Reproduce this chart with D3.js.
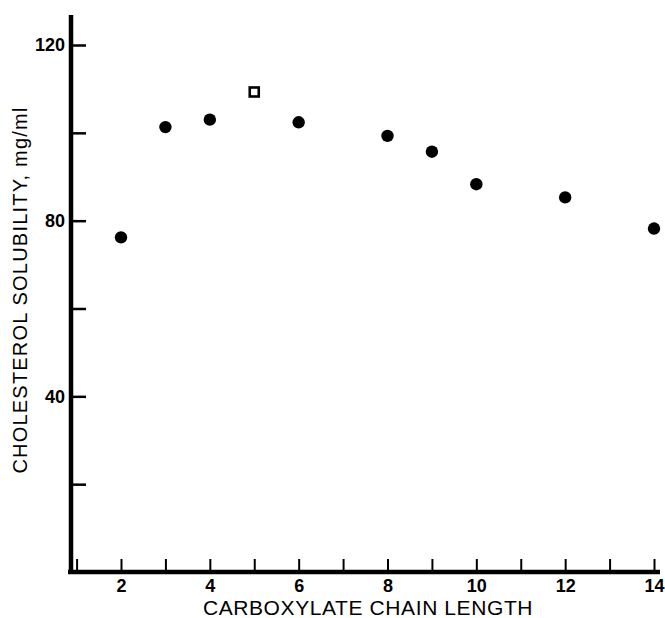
<!DOCTYPE html>
<html>
<head>
<meta charset="utf-8">
<script src="https://cdn.jsdelivr.net/npm/d3@7"></script>
<style>
  body { margin: 0; background: #fff; }
  svg { display: block; font-family: "Liberation Sans", Arial, sans-serif; }
</style>
</head>
<body>
<div id="chart"></div>
<script>
// Data
var chainLength = [2, 3, 4, 6, 8, 9, 10, 12, 14];
var solubility = [76.2, 101.3, 103.0, 102.4, 99.3, 95.7, 88.3, 85.3, 78.2];
var openChain = [5];
var openSolubility = [109.3];

var xTicks = [1, 2, 3, 4, 5, 6, 7, 8, 9, 10, 11, 12, 13, 14];
var xLabels = [2, 4, 6, 8, 10, 12, 14];
var yTicks = [20, 40, 60, 80, 100, 120];
var yLabels = [40, 80, 120];

var w = 665, h = 618;

var svg = d3.select("#chart").append("svg")
    .attr("width", w)
    .attr("height", h);

var xScale = d3.scaleLinear().domain([2, 14]).range([121, 654]);
var yScale = d3.scaleLinear().domain([0, 120]).range([572, 45]);

var axisX = 71;   // where the y axis sits
var axisY = 572;  // where the x axis sits

// x axis: ticks pointing up
var xAxis = d3.axisBottom(xScale)
    .tickValues(xTicks)
    .tickSizeInner(-13)
    .tickSizeOuter(0)
    .tickPadding(7)
    .tickFormat(function(d) { return xLabels.indexOf(d) >= 0 ? d : ""; });

var gx = svg.append("g")
    .attr("transform", "translate(0," + axisY + ")")
    .call(xAxis);
gx.select(".domain").remove();
gx.selectAll(".tick line").attr("stroke", "#000").attr("stroke-width", 2);
gx.selectAll(".tick text")
    .attr("fill", "#000")
    .attr("font-size", 18)
    .attr("font-weight", "bold");

svg.append("line")
    .attr("x1", axisX - 3).attr("x2", 660)
    .attr("y1", axisY).attr("y2", axisY)
    .attr("stroke", "#000").attr("stroke-width", 4.5);

// y axis: ticks pointing right
var yAxis = d3.axisLeft(yScale)
    .tickValues(yTicks)
    .tickSizeInner(-15)
    .tickSizeOuter(0)
    .tickPadding(6)
    .tickFormat(function(d) { return yLabels.indexOf(d) >= 0 ? d : ""; });

var gy = svg.append("g")
    .attr("transform", "translate(" + axisX + ",0)")
    .call(yAxis);
gy.select(".domain").remove();
gy.selectAll(".tick line").attr("stroke", "#000").attr("stroke-width", 2.5);
gy.selectAll(".tick text")
    .attr("fill", "#000")
    .attr("font-size", 18)
    .attr("font-weight", "bold");

svg.append("line")
    .attr("x1", axisX).attr("x2", axisX)
    .attr("y1", 15).attr("y2", axisY + 2)
    .attr("stroke", "#000").attr("stroke-width", 4.5);

// filled points
svg.selectAll("circle.pt")
    .data(chainLength)
    .enter()
    .append("circle")
    .attr("class", "pt")
    .attr("cx", function(d) { return xScale(d); })
    .attr("cy", function(d, i) { return yScale(solubility[i]); })
    .attr("r", 6.2)
    .attr("fill", "#000");

// open square
svg.selectAll("rect.open")
    .data(openChain)
    .enter()
    .append("rect")
    .attr("class", "open")
    .attr("x", function(d) { return xScale(d) - 4.5; })
    .attr("y", function(d, i) { return yScale(openSolubility[i]) - 4.5; })
    .attr("width", 9)
    .attr("height", 9)
    .attr("fill", "none")
    .attr("stroke", "#000")
    .attr("stroke-width", 2.6);

// axis titles
svg.append("text")
    .attr("x", 368)
    .attr("y", 615)
    .attr("text-anchor", "middle")
    .attr("font-size", 21)
    .attr("letter-spacing", 0.6)
    .attr("fill", "#000")
    .text("CARBOXYLATE CHAIN LENGTH");

svg.append("text")
    .attr("transform", "translate(27,290) rotate(-90)")
    .attr("text-anchor", "middle")
    .attr("font-size", 20)
    .attr("letter-spacing", 1.2)
    .attr("fill", "#000")
    .text("CHOLESTEROL SOLUBILITY, mg/ml");
</script>
</body>
</html>
